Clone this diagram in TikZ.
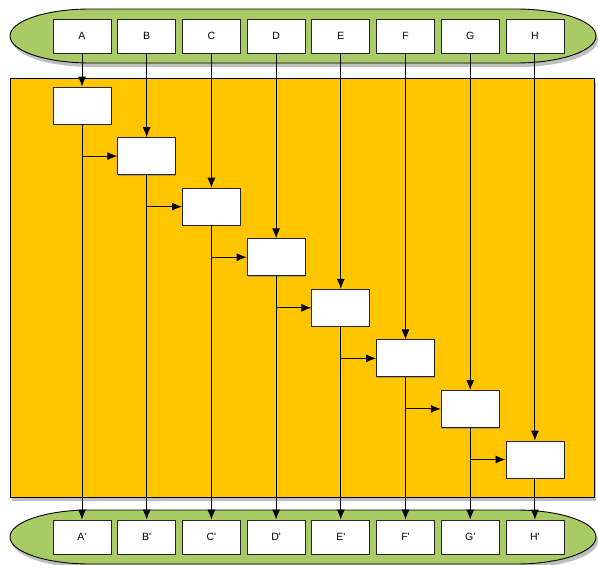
\documentclass[tikz,border=0pt]{standalone}
\usepackage{fontspec}
\setsansfont{Liberation Sans}
\usepackage{tikz}
\usetikzlibrary{arrows.meta, shadows, calc}
\definecolor{pillgreen}{HTML}{A9CB66}
\definecolor{coreyellow}{HTML}{FFC600}
\tikzset{
  lane/.style={draw=black!85, fill=white, line width=0.8pt, minimum width=58pt, minimum height=34pt,
    inner sep=0pt, font=\sffamily\fontsize{10.5}{12}\selectfont,
    drop shadow={shadow xshift=0.5pt, shadow yshift=-1.2pt, opacity=0.6}},
  stage/.style={lane, minimum height=37pt},
  flow/.style={-{Latex[length=10pt,width=8pt]}, line width=0.9pt},
  pill/.style={draw=black, fill=pillgreen, line width=0.9pt,
    drop shadow={shadow xshift=2pt, shadow yshift=-4pt, opacity=0.5}},
}

\begin{document}
\begin{tikzpicture}[x=1pt,y=-1pt]
  \useasboundingbox (0,0) rectangle (598,565);

  % Green pills (inputs on top, outputs at bottom)
  \foreach \yc in {36,537} {
    \draw[pill] (90,\yc-27) -- (516,\yc-27)
      arc[start angle=-90, end angle=90, x radius=80, y radius=27]
      -- (90,\yc+27)
      arc[start angle=90, end angle=270, x radius=80, y radius=27] -- cycle;
  }

  % Yellow core
  \draw[fill=coreyellow, line width=0.8pt,
    drop shadow={shadow xshift=2pt, shadow yshift=-4pt, opacity=0.5}] (10,78) rectangle (594,497);

  % Boxes: top lanes, diagonal stages, bottom lanes
  \foreach \l [count=\i] in {A,B,C,D,E,F,G,H} {
    \node[lane] (t\i) at ({82+64.7*(\i-1)},36) {\l};
    \node[stage] (s\i) at ({82+64.7*(\i-1)},{105.5+50.57*(\i-1)}) {};
    \node[lane] (b\i) at ({82+64.7*(\i-1)},537) {\l\textquotesingle};
  }

  % Vertical flows
  \foreach \i in {1,...,8} {
    \draw[flow] (t\i) -- (s\i);
    \draw[flow] (s\i) -- (b\i);
  }

  % Carry from each stage into the next one
  \foreach \i [evaluate=\i as \j using int(\i+1)] in {1,...,7} {
    \draw[flow] (s\i.south |- s\j.west) -- (s\j.west);
  }
\end{tikzpicture}
\end{document}
